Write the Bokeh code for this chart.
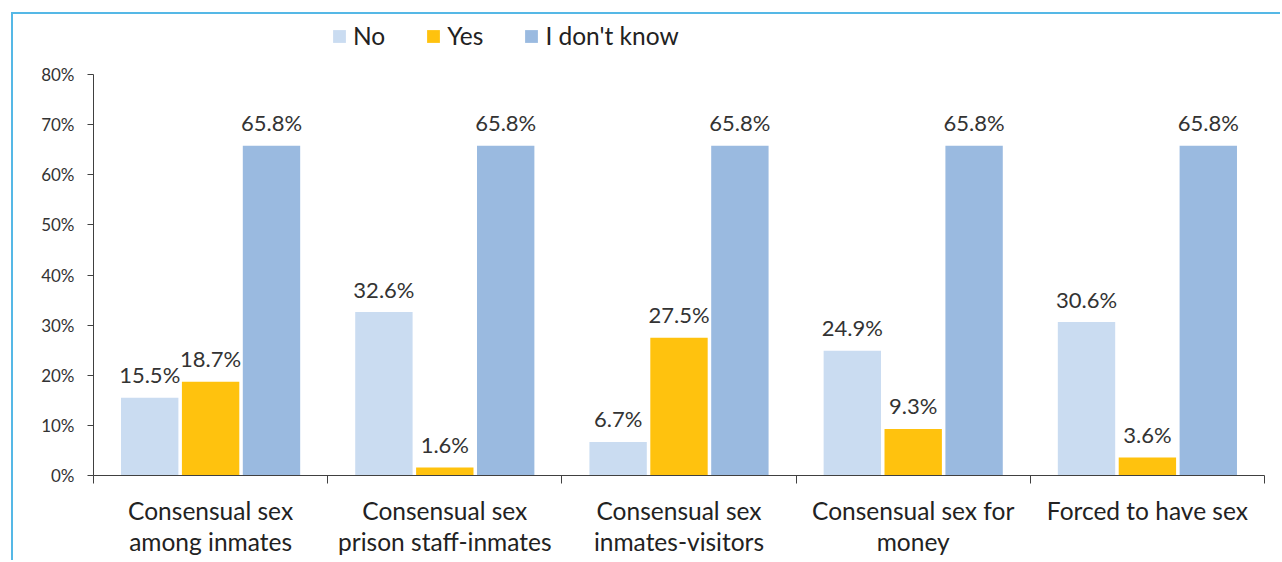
import numpy as np
from bokeh.plotting import figure
from bokeh.models import (ColumnDataSource, Range1d, FixedTicker, Legend, LegendItem)
from bokeh.core.properties import value
from bokeh.embed import file_html
from bokeh.resources import INLINE

categories = ["Consensual sex\namong inmates", "Consensual sex\nprison staff-inmates",
              "Consensual sex\ninmates-visitors", "Consensual sex for\nmoney", "Forced to have sex"]
series_names = ["No", "Yes", "I don't know"]
no_vals = [15.5, 32.6, 6.7, 24.9, 30.6]
yes_vals = [18.7, 1.6, 27.5, 9.3, 3.6]
idk_vals = [65.8, 65.8, 65.8, 65.8, 65.8]
y_ticks = [0, 10, 20, 30, 40, 50, 60, 70, 80]
y_tick_labels = ["0%", "10%", "20%", "30%", "40%", "50%", "60%", "70%", "80%"]

colors = ["#CADCF1", "#FFC20E", "#9ABAE0"]
FONT = "Lato"

# layout (page pixels): axis 0 at 475, 80 at 74; frame top at 20
Y_MAX = 80.0
frame_top, y0_px, y80_px = 20, 475, 74
y_end = Y_MAX * (y0_px - frame_top) / (y0_px - y80_px)

p = figure(width=1269, height=548, output_backend="svg", toolbar_location=None,
           x_range=Range1d(0, len(categories)), y_range=Range1d(0, y_end),
           min_border_left=80, min_border_right=18, min_border_top=6, min_border_bottom=87)
p.styles = {"border-left": "2px solid #55B8E6", "border-top": "2px solid #55B8E6",
            "margin-left": "11px", "margin-top": "12px"}
p.outline_line_color = None
p.xgrid.visible = False
p.ygrid.visible = False

centers = np.arange(len(categories)) + 0.5
offsets = [-0.26, 0.0, 0.26]
bar_w = 0.245
renderers = []
for vals, off, col in zip([no_vals, yes_vals, idk_vals], offsets, colors):
    src = ColumnDataSource(dict(x=centers + off, top=vals,
                                lab=[f"{v:.1f}%" for v in vals]))
    r = p.vbar(x="x", top="top", width=bar_w, source=src, fill_color=col, line_color=None)
    renderers.append(r)
    p.text(x="x", y="top", text="lab", source=src, text_align="center",
           text_baseline="alphabetic", y_offset=-23, text_font=value(FONT),
           text_font_size="22px", text_color="#333333")

# axes
xa = p.xaxis[0]
xa.ticker = FixedTicker(ticks=list(centers), minor_ticks=list(range(len(categories) + 1)))
xa.major_label_overrides = {float(c): lab for c, lab in zip(centers, categories)}
xa.major_tick_line_color = None
xa.minor_tick_in = 0
xa.minor_tick_out = 8
xa.minor_tick_line_color = "#404040"
xa.axis_line_color = "#404040"
xa.major_label_text_font = FONT
xa.major_label_text_font_size = "24.5px"
xa.major_label_text_color = "#222222"
xa.major_label_standoff = 12
xa.major_label_text_line_height = 1.08

ya = p.yaxis[0]
ya.ticker = FixedTicker(ticks=y_ticks, minor_ticks=[])
ya.bounds = (0, Y_MAX)
ya.major_label_overrides = {t: l for t, l in zip(y_ticks, y_tick_labels)}
ya.major_tick_in = 0
ya.major_tick_out = 6
ya.major_tick_line_color = "#404040"
ya.axis_line_color = "#404040"
ya.major_label_text_font = FONT
ya.major_label_text_font_size = "17px"
ya.major_label_text_color = "#333333"
ya.major_label_standoff = 13

legend = Legend(items=[LegendItem(label=n, renderers=[r]) for n, r in zip(series_names, renderers)],
                orientation="horizontal", location=(238, 425), padding=0, margin=0,
                spacing=40, label_standoff=6, glyph_width=16, glyph_height=16,
                border_line_color=None, background_fill_alpha=0,
                label_text_font=FONT, label_text_font_size="24.5px", label_text_color="#222222")
p.add_layout(legend)

open("out.html", "w").write(file_html(p, INLINE))
